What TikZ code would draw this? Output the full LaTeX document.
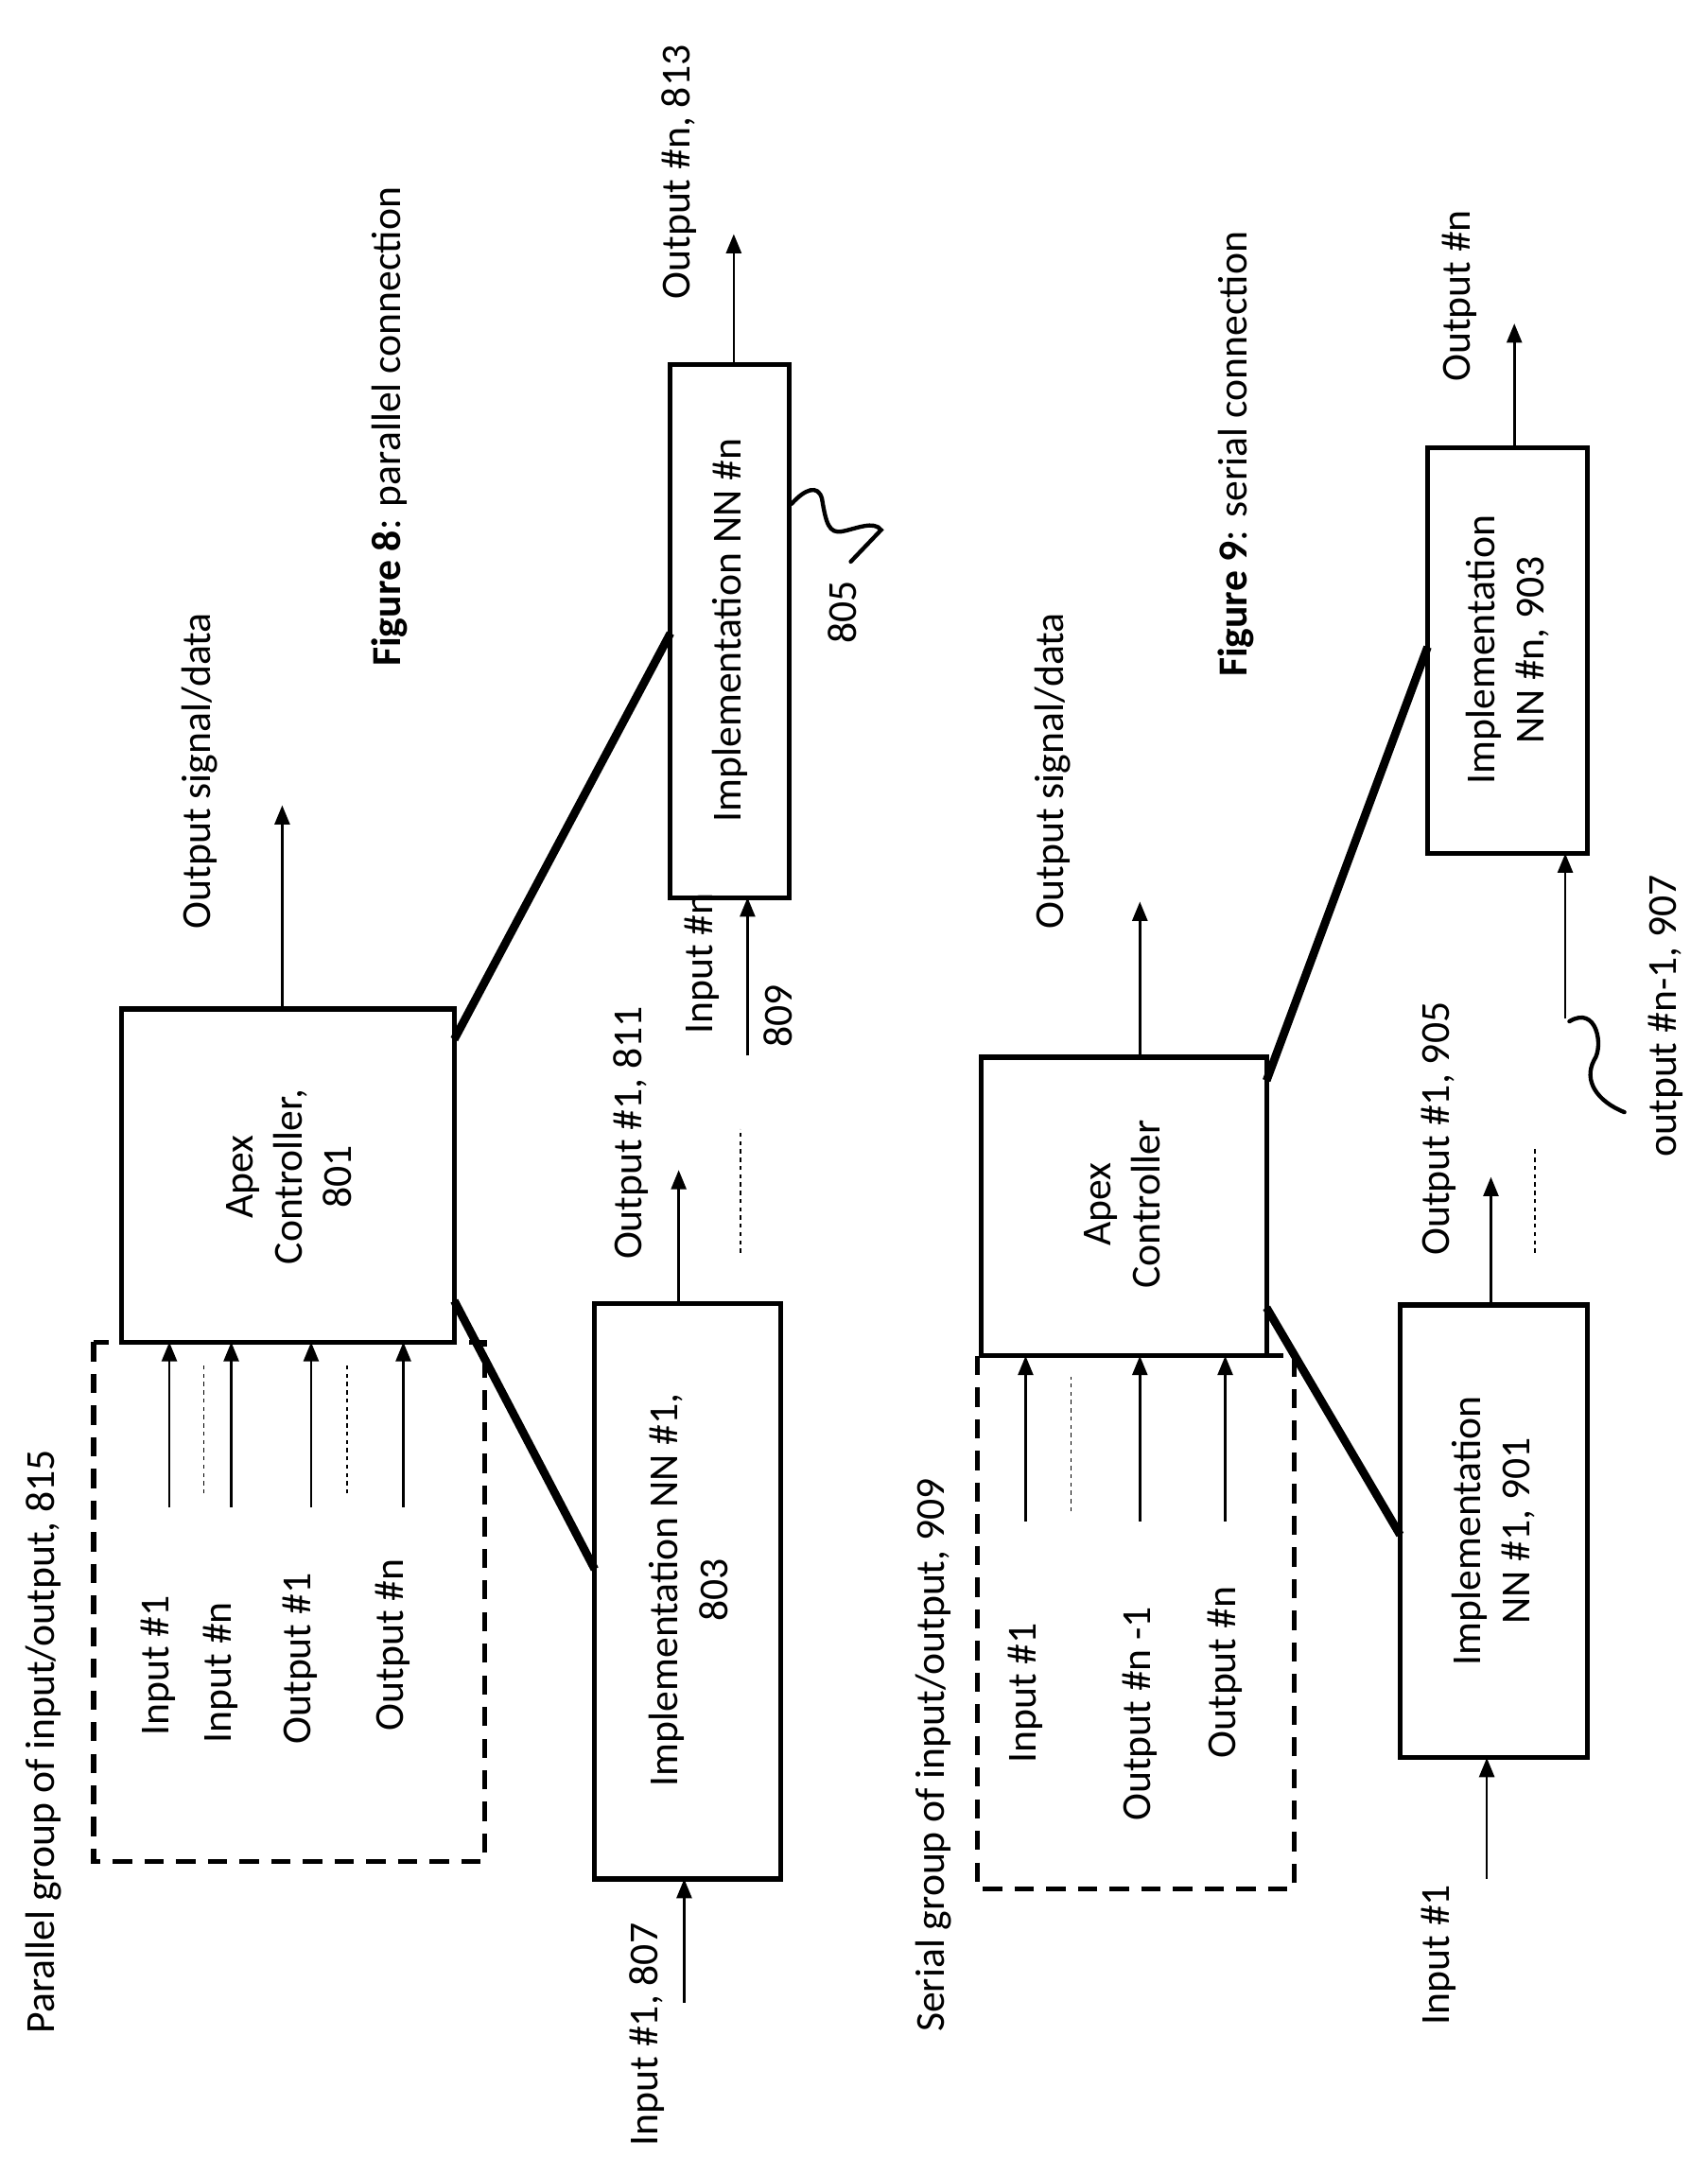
\documentclass[tikz,border=0pt]{standalone}
\usepackage{fontspec}
\setmainfont{Carlito}
\usetikzlibrary{arrows.meta}
\begin{document}
\begin{tikzpicture}[x=1pt,y=-1pt,
  box/.style={draw,line width=3.5pt},
  thk/.style={line width=6pt},
  arr/.style={line width=1.8pt,-{Triangle[length=14pt,width=11pt]}},
  dsh/.style={line width=1pt,dashed},
  sq/.style={line width=3pt,line cap=round},
  lbl/.style={rotate=90,font=\fontsize{30}{36}\selectfont,align=center}]
\useasboundingbox (0,0) rectangle (1240,1567);
% ===== Figure 8 =====
\draw[arr] (533,265) -- (533,170);
\node[lbl] (o8n) at (493,125) {Output \#n, 813};
\draw[box] (88,733) rectangle (330,975);
\node[lbl] (ac8) at (210,855) {Apex\\Controller,\\801};
\draw[box,dashed,dash pattern=on 14pt off 9pt] (68,975) rectangle (352,1352);
\node[lbl] (g8) at (32,1265) {Parallel group of input/output, 815};
\foreach \x/\t/\yy in {123/Input \#1/1210,168/Input \#n/1215,226/Output \#1/1205,293/Output \#n/1195}{
  \draw[arr] (\x,1095) -- (\x,975);
  \node[lbl] at (\x-8,\yy) {\t};}
\draw[dsh] (148,1085) -- (148,990);
\draw[dsh] (252,1085) -- (252,990);
\draw[box] (432,947) rectangle (567,1365);
\node[lbl] (nn81) at (500,1155) {Implementation NN \#1,\\803};
\draw[box] (487,265) rectangle (573,652);
\node[lbl] (nn8n) at (530,458) {Implementation NN \#n};
\draw[thk] (330,945) -- (432,1140);
\draw[thk] (330,755) -- (487,460);
\draw[arr] (497,1455) -- (497,1365);
\node[lbl] at (470,1478) {Input \#1, 807};
\draw[arr] (493,947) -- (493,850);
\node[lbl] at (458,823) {Output \#1, 811};
\draw[dsh] (538,910) -- (538,820);
\draw[arr] (543,767) -- (543,652);
\node[lbl] at (510,700) {Input \#n};
\node[lbl] at (565,738) {809};
\draw[sq] (575,366) .. controls (585,355) and (594,352) .. (597,362) .. controls (600,380) and (602,388) .. (612,386) .. controls (622,384) and (635,378) .. (640,385) -- (618,408);
\node[lbl] at (612,445) {805};
\draw[arr] (205,733) -- (205,585);
\node[lbl] at (145,560) {Output signal/data};
\node[lbl] at (283,310) {\textbf{Figure 8}: parallel connection};
% ===== Figure 9 =====
\draw[box] (713,768) rectangle (920,985);
\node[lbl] (ac9) at (815,875) {Apex\\Controller};
\draw[box,dashed,dash pattern=on 14pt off 9pt] (710,985) rectangle (940,1372);
\node[lbl] (g9) at (678,1275) {Serial group of input/output, 909};
\foreach \x/\t/\yy in {745/Input \#1/1230,828/Output \#n -1/1245,890/Output \#n/1215}{
  \draw[arr] (\x,1105) -- (\x,985);
  \node[lbl] at (\x,\yy) {\t};}
\draw[dsh] (778,1098) -- (778,1000);
\draw[box] (1017,948) rectangle (1153,1277);
\node[lbl] (nn91) at (1085,1112) {Implementation\\NN \#1, 901};
\draw[box] (1037,325) rectangle (1153,620);
\node[lbl] (nn9n) at (1095,472) {Implementation\\NN \#n, 903};
\draw[thk] (920,950) -- (1017,1115);
\draw[thk] (920,785) -- (1037,470);
\draw[arr] (1080,1365) -- (1080,1277);
\node[lbl] at (1045,1420) {Input \#1};
\draw[arr] (1100,325) -- (1100,235);
\node[lbl] at (1060,215) {Output \#n};
\draw[arr] (1137,740) -- (1137,620);
\node[lbl] at (1210,738) {output \#n-1, 907};
\draw[sq] (1140,742) .. controls (1160,730) and (1165,760) .. (1158,770) .. controls (1150,785) and (1160,800) .. (1180,808);
\draw[arr] (1083,948) -- (1083,855);
\node[lbl] at (1045,820) {Output \#1, 905};
\draw[dsh] (1115,910) -- (1115,835);
\draw[arr] (828,768) -- (828,655);
\node[lbl] at (765,560) {Output signal/data};
\node[lbl] at (898,330) {\textbf{Figure 9}: serial connection};
\end{tikzpicture}
\end{document}
